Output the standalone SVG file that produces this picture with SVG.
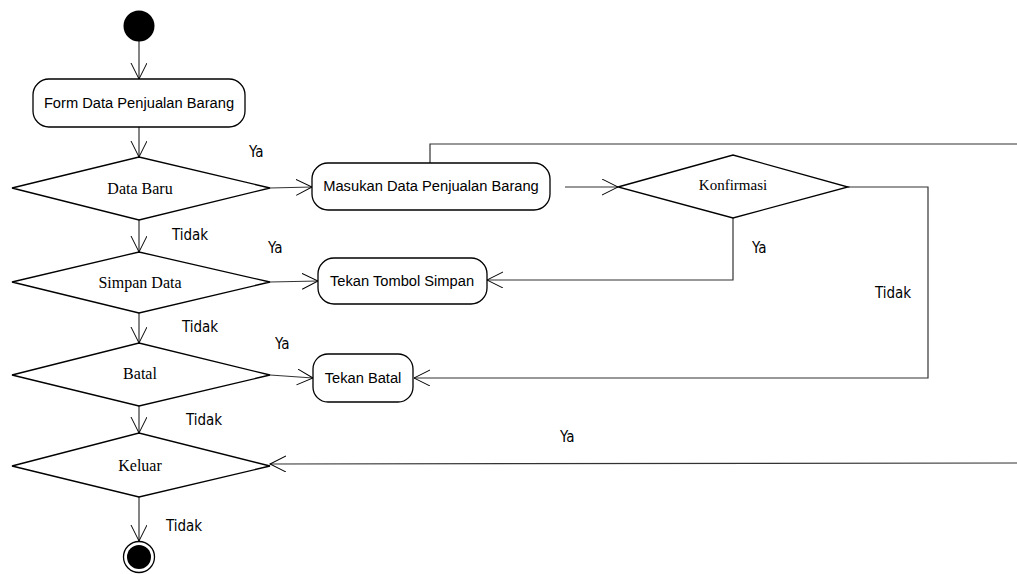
<svg xmlns="http://www.w3.org/2000/svg" width="1017" height="574" viewBox="0 0 1017 574">
<style>
.box{fill:#fff;stroke:#000;stroke-width:1.3}
.dia{fill:#fff;stroke:#000;stroke-width:1.3}
.act{font-family:"Liberation Sans",Arial,sans-serif;font-size:14.7px;fill:#000;text-anchor:middle;dominant-baseline:central}
.dec{font-family:"Liberation Serif","Times New Roman",serif;font-size:16px;fill:#000;text-anchor:middle;dominant-baseline:central}
.lbl{font-family:"DejaVu Sans Condensed","DejaVu Sans",sans-serif;font-stretch:condensed;font-size:15px;fill:#000}
.con{fill:none;stroke:#333;stroke-width:1.2}
</style>
<defs>
<marker id="arr" markerUnits="userSpaceOnUse" markerWidth="18" markerHeight="18" refX="16" refY="8" orient="auto" viewBox="0 0 18 18">
<path d="M0,0 L16,8 L0,16" fill="none" stroke="#000" stroke-width="1"/>
</marker>
</defs>
<g id="connectors">
<line class="con" x1="139" y1="40" x2="139" y2="79" marker-end="url(#arr)"/>
<line class="con" x1="139" y1="127" x2="139" y2="157" marker-end="url(#arr)"/>
<line class="con" x1="270" y1="188" x2="312" y2="187" marker-end="url(#arr)"/>
<polyline class="con" points="430,163 430,144 1017,144"/>
<line class="con" x1="565" y1="187" x2="618" y2="187" marker-end="url(#arr)"/>
<polyline class="con" points="733,218 733,280 487,280" marker-end="url(#arr)"/>
<polyline class="con" points="848,187 928,187 928,378 414,378" marker-end="url(#arr)"/>
<line class="con" x1="139" y1="220" x2="139" y2="252" marker-end="url(#arr)"/>
<line class="con" x1="270" y1="282" x2="318" y2="281" marker-end="url(#arr)"/>
<line class="con" x1="139" y1="313" x2="139" y2="343" marker-end="url(#arr)"/>
<line class="con" x1="270" y1="375" x2="313" y2="378" marker-end="url(#arr)"/>
<line class="con" x1="139" y1="406" x2="139" y2="433" marker-end="url(#arr)"/>
<line class="con" x1="1017" y1="463" x2="270" y2="464" marker-end="url(#arr)"/>
<line class="con" x1="139" y1="497" x2="139" y2="541" marker-end="url(#arr)"/>
</g>
<g id="start"><circle cx="139" cy="26" r="15.5" fill="#000"/></g>
<g id="form"><rect class="box" x="33" y="79" width="212" height="48" rx="16"/><text class="act" x="139" y="103">Form Data Penjualan Barang</text></g>
<g id="databaru"><polygon class="dia" points="12,188 139,157 270,188 139,220"/><text class="dec" x="140" y="188">Data Baru</text></g>
<g id="masukan"><rect class="box" x="312" y="163" width="238" height="47" rx="16"/><text class="act" x="431" y="186">Masukan Data Penjualan Barang</text></g>
<g id="konfirmasi"><polygon class="dia" points="618,187 733,155 848,187 733,218"/><text class="dec" x="733" y="185" style="font-size:15px">Konfirmasi</text></g>
<g id="simpandata"><polygon class="dia" points="12,282 139,252 270,282 139,313"/><text class="dec" x="140" y="282">Simpan Data</text></g>
<g id="tekansimpan"><rect class="box" x="318" y="258" width="169" height="46" rx="16"/><text class="act" x="402" y="281">Tekan Tombol Simpan</text></g>
<g id="batal"><polygon class="dia" points="12,375 139,343 270,375 139,406"/><text class="dec" x="140" y="373">Batal</text></g>
<g id="tekanbatal"><rect class="box" x="313" y="354" width="100" height="48" rx="15"/><text class="act" x="363" y="378">Tekan Batal</text></g>
<g id="keluar"><polygon class="dia" points="12,466 139,433 270,466 139,497"/><text class="dec" x="140" y="465">Keluar</text></g>
<g id="end"><circle cx="139" cy="557" r="15.5" fill="#fff" stroke="#000" stroke-width="1.3"/><circle cx="139" cy="557" r="12" fill="#000"/></g>
<g id="labels">
<text class="lbl" x="249" y="157">Ya</text>
<text class="lbl" x="172" y="240">Tidak</text>
<text class="lbl" x="268" y="253">Ya</text>
<text class="lbl" x="752" y="253">Ya</text>
<text class="lbl" x="875" y="298">Tidak</text>
<text class="lbl" x="182" y="332">Tidak</text>
<text class="lbl" x="275" y="349">Ya</text>
<text class="lbl" x="186" y="425">Tidak</text>
<text class="lbl" x="560" y="442">Ya</text>
<text class="lbl" x="166" y="531">Tidak</text>
</g>
</svg>
